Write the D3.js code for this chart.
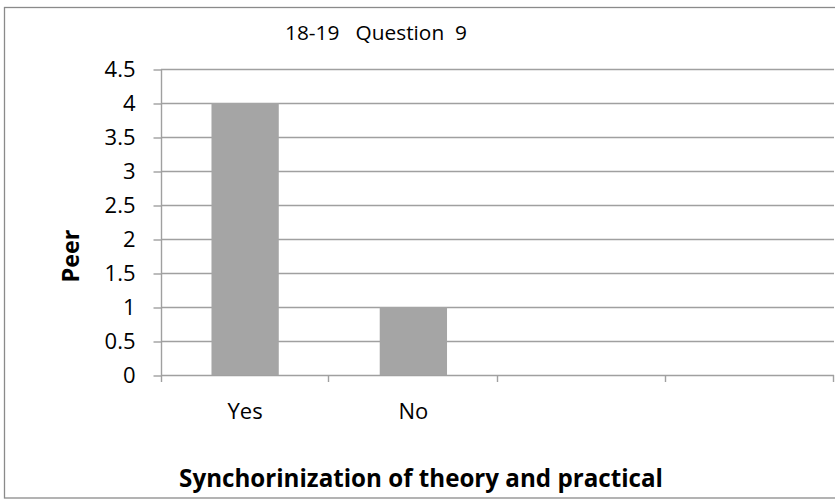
<!DOCTYPE html>
<html>
<head>
<meta charset="utf-8">
<script src="https://cdn.jsdelivr.net/npm/d3@7"></script>
<style>
  html, body { margin: 0; padding: 0; background: #fff; }
  svg { display: block; }
  text { font-family: "Open Sans", "Noto Sans", sans-serif; fill: #000; }
</style>
</head>
<body>
<svg id="chart" width="835" height="499"></svg>
<script>
// ---- data ----
const categories = ["Yes", "No", "", ""];
const values = [4, 1, null, null];
const yTicks = [0, 0.5, 1, 1.5, 2, 2.5, 3, 3.5, 4, 4.5];
const chartTitle = "18-19   Question  9";
const xTitle = "Synchorinization of theory and practical";
const yTitle = "Peer";

// ---- layout ----
const W = 835, H = 499;
const plot = { left: 161, right: 834, top: 69, bottom: 375 };
const svg = d3.select("#chart");

function fit(sel, target) {
  const n = sel.node();
  const fs = parseFloat(sel.attr("font-size"));
  const w = n.getComputedTextLength();
  sel.attr("font-size", (fs * target / w).toFixed(2));
  return sel;
}

// outer border
svg.append("rect")
  .attr("x", 4.5).attr("y", 7.5)
  .attr("width", 832).attr("height", 490.5)
  .attr("fill", "#fff").attr("stroke", "#8a8a8a").attr("stroke-width", 1.3);

const x = d3.scaleBand()
  .domain(d3.range(categories.length))
  .range([plot.left, plot.right])
  .padding(0);

const y = d3.scaleLinear()
  .domain([0, 4.5])
  .range([plot.bottom, plot.top]);

const gridColor = "#a0a0a0";

// gridlines
svg.append("g")
  .selectAll("line")
  .data(yTicks)
  .join("line")
  .attr("x1", plot.left).attr("x2", plot.right)
  .attr("y1", d => Math.round(y(d)) + 0.5).attr("y2", d => Math.round(y(d)) + 0.5)
  .attr("stroke", gridColor).attr("stroke-width", 1.4);

// bars
svg.append("g")
  .selectAll("rect")
  .data(values.map((v, i) => ({ v, i })).filter(d => d.v != null))
  .join("rect")
  .attr("x", d => x(d.i) + x.bandwidth() * 0.3)
  .attr("width", x.bandwidth() * 0.4)
  .attr("y", d => y(d.v))
  .attr("height", d => y(0) - y(d.v))
  .attr("fill", "#a5a5a5");

// y axis
const yAxis = d3.axisLeft(y)
  .tickValues(yTicks)
  .tickSize(8)
  .tickPadding(18)
  .tickFormat(d => d3.format("")(d));
const gy = svg.append("g")
  .attr("transform", `translate(${plot.left + 0.5},0)`)
  .call(yAxis);
gy.select(".domain").remove();
gy.append("line")
  .attr("x1", 0).attr("x2", 0)
  .attr("y1", plot.top).attr("y2", plot.bottom + 7)
  .attr("stroke", gridColor).attr("stroke-width", 1.4);
gy.selectAll(".tick line").attr("stroke", gridColor).attr("stroke-width", 1.4)
  .attr("transform", d => `translate(0,${Math.round(y(d)) + 0.5 - y(d)})`);
gy.selectAll(".tick text")
  .attr("font-size", 22)
  .attr("font-family", "'Open Sans', sans-serif")
  .attr("fill", "#000")
  .attr("dy", "0.36em");

// x axis
const xAxis = d3.axisBottom(x)
  .tickSize(0)
  .tickPadding(28)
  .tickFormat(i => categories[i]);
const gx = svg.append("g")
  .attr("transform", `translate(0,${plot.bottom})`)
  .call(xAxis);
gx.select(".domain").remove();
gx.selectAll(".tick text")
  .attr("font-size", 22)
  .attr("font-family", "'Open Sans', sans-serif")
  .attr("fill", "#000");
// category boundary ticks
const bounds = d3.range(categories.length + 1).map(i => plot.left + i * x.bandwidth());
svg.append("g")
  .selectAll("line")
  .data(bounds.slice(1))
  .join("line")
  .attr("x1", d => Math.round(d) - 0.5).attr("x2", d => Math.round(d) - 0.5)
  .attr("y1", plot.bottom).attr("y2", plot.bottom + 7)
  .attr("stroke", gridColor).attr("stroke-width", 1.4);

// chart title
const t = svg.append("text")
  .attr("x", 285).attr("y", 40)
  .attr("font-size", 21.5)
  .attr("xml:space", "preserve")
  .style("white-space", "pre")
  .text(chartTitle);
fit(t, 182);

// x title
const xt = svg.append("text")
  .attr("x", 421).attr("y", 487)
  .attr("text-anchor", "middle")
  .attr("font-weight", "bold")
  .attr("font-size", 24)
  .text(xTitle);
fit(xt, 484);

// y title
const yt = svg.append("text")
  .attr("transform", "translate(79,256) rotate(-90)")
  .attr("text-anchor", "middle")
  .attr("font-weight", "bold")
  .attr("font-size", 22)
  .text(yTitle);
fit(yt, 53);
</script>
</body>
</html>
